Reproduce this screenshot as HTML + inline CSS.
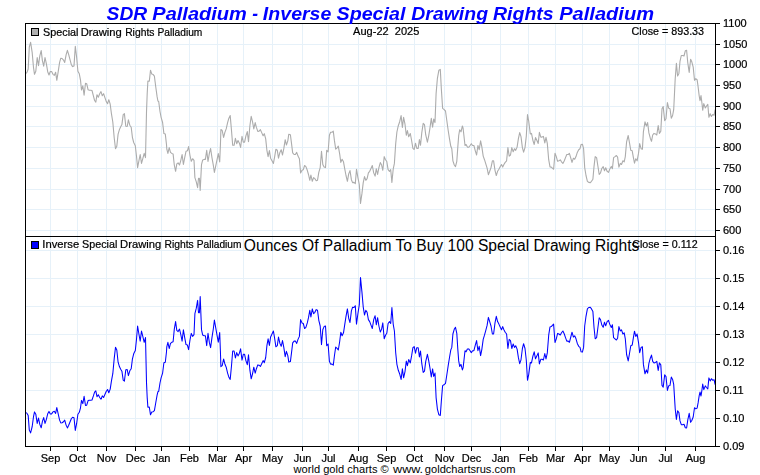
<!DOCTYPE html>
<html lang="en"><head><meta charset="utf-8"><title>SDR Palladium - Inverse Special Drawing Rights Palladium</title>
<style>html,body{margin:0;padding:0;background:#fff}body{width:760px;height:475px;overflow:hidden;position:relative}svg{position:absolute;left:0;top:0;display:block}#tx{will-change:transform}</style></head>
<body>
<svg id="ch" width="760" height="475" viewBox="0 0 760 475">
<rect width="760" height="475" fill="#fff"/>
<path d="M50.5 23.5V446.5M77.5 23.5V446.5M106.5 23.5V446.5M135.5 23.5V446.5M161.5 23.5V446.5M189.5 23.5V446.5M217.5 23.5V446.5M243.5 23.5V446.5M272.5 23.5V446.5M302.5 23.5V446.5M328.5 23.5V446.5M358.5 23.5V446.5M386.5 23.5V446.5M414.5 23.5V446.5M444.5 23.5V446.5M471.5 23.5V446.5M500.5 23.5V446.5M528.5 23.5V446.5M555.5 23.5V446.5M582.5 23.5V446.5M609.5 23.5V446.5M638.5 23.5V446.5M665.5 23.5V446.5M695.5 23.5V446.5M25.5 230.5H715.5M25.5 209.5H715.5M25.5 189.5H715.5M25.5 168.5H715.5M25.5 147.5H715.5M25.5 126.5H715.5M25.5 106.5H715.5M25.5 85.5H715.5M25.5 64.5H715.5M25.5 44.5H715.5M25.5 418.5H715.5M25.5 390.5H715.5M25.5 362.5H715.5M25.5 334.5H715.5M25.5 306.5H715.5M25.5 278.5H715.5M25.5 250.5H715.5" stroke="#e6f1f9" stroke-width="1" fill="none" shape-rendering="crispEdges"/>
<polyline points="26.3,73.6 27.2,71.7 28.2,69.0 29.3,47.0 30.6,42.3 32.2,52.7 33.5,67.5 34.5,74.3 35.8,71.2 37.2,57.5 38.5,65.6 39.8,55.9 41.2,50.6 42.4,60.6 43.7,66.2 45.0,57.5 46.3,63.3 47.7,71.7 49.0,75.0 50.3,71.5 51.6,71.5 53.0,74.3 54.3,75.4 55.6,72.2 56.8,80.3 58.2,71.7 59.6,62.4 60.8,58.2 62.1,58.5 63.5,60.1 64.7,62.4 66.1,54.8 67.4,50.4 68.7,54.6 70.0,59.6 71.4,64.8 72.6,66.6 74.0,65.9 75.3,46.4 76.6,57.0 77.9,71.2 79.3,73.8 80.5,80.1 81.5,90.0 82.8,85.8 84.1,95.3 85.5,83.2 86.7,83.7 88.1,89.8 89.4,90.2 90.7,90.2 92.0,90.5 93.4,95.8 94.6,100.5 95.8,102.1 97.0,94.7 98.3,97.2 99.7,93.7 101.0,91.6 102.3,95.8 103.6,93.7 105.0,97.9 106.3,101.6 107.6,103.7 108.8,99.7 110.2,104.2 111.5,114.2 112.8,122.0 114.2,137.8 115.5,148.8 116.8,146.2 118.1,134.1 119.5,129.4 120.7,126.7 121.9,124.6 123.2,114.6 124.4,113.6 125.8,126.2 127.2,126.5 128.4,119.9 129.8,125.2 131.2,127.3 132.4,137.3 133.7,142.5 135.3,145.7 136.5,156.2 137.6,167.6 138.9,160.8 140.2,154.5 141.5,163.4 142.8,158.7 144.2,153.4 145.5,157.6 146.5,112.0 147.2,93.6 147.9,81.0 149.3,81.2 150.5,70.2 151.8,74.1 153.2,74.6 154.4,76.2 155.8,87.3 157.1,96.7 157.9,101.0 158.7,101.5 160.0,111.5 161.1,117.3 162.6,122.5 163.9,133.6 165.3,134.1 166.5,144.6 166.8,149.2 167.9,153.4 169.2,147.6 170.5,152.4 171.8,153.4 173.1,153.9 174.3,165.0 175.6,171.3 176.8,163.9 178.1,162.9 179.5,165.0 180.7,160.8 182.1,154.5 183.4,164.5 184.7,157.6 186.0,151.3 187.4,150.8 188.6,146.6 190.0,155.5 191.3,161.3 192.6,158.7 194.0,160.3 194.9,177.6 196.3,181.8 197.6,187.6 198.5,178.3 199.4,178.3 200.2,190.4 201.5,164.6 202.7,159.9 204.1,159.4 205.4,159.4 206.7,150.4 208.0,161.5 209.4,153.1 210.6,148.5 212.0,157.8 213.3,165.2 214.4,172.5 215.7,166.2 217.1,159.4 218.3,153.6 219.7,162.0 220.4,145.2 220.9,129.5 222.2,130.5 223.6,137.4 224.8,132.6 226.2,128.9 227.6,122.6 228.8,118.4 230.2,115.6 231.5,130.5 232.7,145.3 234.1,145.3 235.4,138.4 236.7,143.7 238.0,140.5 239.4,143.2 240.6,147.4 242.0,136.3 243.3,142.1 244.6,142.1 245.9,135.8 247.3,131.6 248.5,141.6 249.9,125.8 251.2,116.3 252.5,121.6 253.8,128.9 255.2,122.6 256.4,127.4 257.8,131.4 259.1,131.1 260.4,129.7 261.7,132.6 263.1,135.8 264.3,133.7 265.7,138.9 266.9,150.3 268.1,156.6 269.4,150.6 270.6,158.2 272.0,160.8 273.4,163.4 274.6,157.1 275.9,149.2 277.3,150.3 278.5,158.2 279.9,152.4 281.2,149.7 282.5,155.0 283.8,148.7 285.2,139.7 286.4,145.0 287.8,140.8 288.8,134.2 290.4,134.7 291.5,143.4 292.7,152.9 294.1,154.5 295.4,154.5 296.7,152.4 298.0,156.1 299.4,158.7 300.6,172.9 302.0,170.3 303.3,169.7 304.6,165.5 305.9,166.6 307.3,170.3 308.5,174.5 309.8,180.3 310.9,175.0 312.3,181.3 313.6,177.6 314.9,178.7 316.2,180.8 317.5,180.3 318.8,172.4 320.2,167.6 321.5,151.3 322.8,164.5 324.1,167.1 325.5,167.6 326.7,150.3 328.1,151.8 329.4,135.2 330.6,132.2 332.0,132.2 333.3,131.2 334.4,140.4 335.7,149.1 337.1,147.8 338.3,146.2 339.7,154.1 340.8,162.4 342.1,159.2 343.5,161.8 344.7,168.7 346.0,175.5 347.4,181.3 348.7,173.9 350.0,170.6 351.4,179.7 352.6,182.6 354.0,182.4 355.3,183.7 356.5,169.2 357.9,177.6 359.3,184.5 360.5,203.4 361.9,193.9 363.2,182.9 364.5,176.6 365.8,180.3 367.1,178.7 368.4,172.9 369.7,171.3 371.1,168.2 372.3,165.5 373.7,172.9 375.1,176.1 376.3,168.7 377.6,174.5 378.9,167.6 380.3,162.6 381.6,165.0 382.8,170.3 384.2,156.6 385.5,159.7 386.8,161.5 388.1,169.7 389.5,171.3 390.7,169.7 391.9,182.4 393.2,169.2 394.4,163.4 395.7,143.6 396.9,132.0 398.3,125.7 399.6,122.0 401.1,115.6 402.4,127.4 403.6,117.4 405.0,124.2 406.3,135.3 407.4,130.5 408.7,136.8 410.3,133.5 411.6,140.5 412.9,148.4 414.2,149.5 415.5,143.2 416.8,148.4 418.2,148.4 419.4,139.5 420.5,145.3 421.8,132.6 423.2,123.4 424.5,124.7 425.7,134.7 427.4,142.1 428.7,135.8 429.9,128.4 431.3,118.4 432.6,127.2 433.7,119.0 435.0,122.6 436.1,93.6 437.4,78.3 438.9,70.2 440.3,69.4 441.3,88.3 442.6,108.3 443.9,109.4 445.5,111.0 446.8,120.5 448.2,130.5 449.5,138.9 450.8,146.3 451.8,148.7 452.9,160.8 454.3,165.0 455.5,166.6 456.8,161.3 457.8,147.1 458.7,135.5 459.7,129.7 461.0,131.8 462.4,126.0 463.1,128.2 463.9,135.5 465.0,145.5 466.1,144.5 467.4,147.1 468.7,147.3 470.1,145.5 471.3,143.7 472.6,145.5 473.9,145.5 475.3,150.8 476.6,155.0 477.9,145.5 479.2,149.7 480.6,140.8 481.8,146.6 483.2,156.1 484.5,159.7 485.8,163.9 487.1,168.2 488.4,174.7 489.7,171.3 491.0,167.6 492.4,160.8 493.6,160.8 495.0,170.3 496.3,175.5 497.6,171.3 498.9,169.2 500.3,166.6 501.5,164.5 502.7,167.1 503.9,164.5 505.2,162.4 506.6,160.8 507.9,147.6 509.2,156.1 510.5,155.0 511.8,147.6 513.2,151.8 514.5,148.7 515.7,150.3 517.1,147.1 518.4,138.7 519.7,132.6 521.0,136.6 522.4,147.6 523.6,152.2 525.0,147.6 526.3,136.1 527.5,114.5 528.7,121.0 530.3,133.9 531.5,133.4 532.9,140.3 534.2,144.5 535.5,137.6 536.8,140.3 538.2,143.4 539.4,132.4 540.8,137.1 542.0,137.1 543.4,136.4 544.8,142.9 546.0,137.4 547.3,143.4 548.7,159.7 550.0,166.9 551.3,167.1 552.6,168.4 553.6,169.2 555.0,153.2 556.3,156.6 557.6,161.3 558.9,160.8 560.3,159.9 561.5,161.8 562.9,163.4 564.3,160.8 565.5,157.6 566.8,154.5 568.2,154.5 569.4,153.4 570.8,158.2 572.0,162.4 573.4,158.2 574.7,159.2 576.0,156.6 577.3,152.4 578.7,149.7 580.0,148.7 581.1,144.5 582.4,144.2 583.6,148.7 584.7,167.6 586.0,175.5 587.4,181.3 588.7,182.4 590.3,182.6 591.5,181.3 592.9,179.2 594.0,166.6 595.2,156.6 596.6,157.6 597.8,165.5 599.2,174.5 600.5,172.9 601.8,168.5 603.2,166.6 604.5,170.8 605.7,167.8 607.1,171.3 608.5,172.4 609.7,169.2 611.3,166.4 612.4,168.7 613.6,157.6 615.0,156.6 616.4,155.5 617.6,157.1 618.9,167.1 620.3,163.4 621.5,164.5 622.9,160.8 624.2,161.8 625.3,156.6 626.6,141.8 628.2,135.5 629.5,142.9 630.8,150.3 632.2,150.8 633.4,157.6 634.5,163.2 635.8,158.7 637.1,160.8 638.5,153.4 639.7,143.6 641.1,148.7 642.4,149.2 643.4,131.8 645.0,121.8 646.4,126.0 647.6,122.6 648.9,132.9 650.3,138.2 651.5,141.3 652.7,135.0 654.0,133.4 655.5,133.9 656.8,135.0 658.2,125.5 659.4,133.4 660.8,131.3 662.0,108.7 663.2,106.6 664.7,120.8 666.0,118.7 667.4,102.6 668.7,108.2 670.0,108.7 671.3,118.2 672.6,115.5 673.7,109.7 675.2,78.7 676.4,63.4 677.6,76.0 678.9,73.4 680.0,61.3 681.3,55.5 682.6,55.5 684.0,56.0 685.3,50.8 686.6,50.3 687.8,62.9 689.2,72.4 690.6,59.2 691.8,61.8 693.2,67.1 694.5,80.3 695.8,78.7 697.1,79.7 698.1,86.7 699.2,96.0 700.0,100.6 701.0,95.6 701.9,102.7 702.7,110.3 703.8,103.6 705.3,108.0 706.5,106.1 707.8,104.4 708.9,117.3 710.2,113.8 711.4,116.4 712.8,114.5 714.1,115.2 715.1,109.5" fill="none" stroke="#acacac" stroke-width="1.1" stroke-linejoin="round"/>
<polyline points="26.3,412.5 27.2,413.8 28.2,415.6 29.3,430.1 30.6,432.9 32.2,426.5 33.5,416.7 34.5,411.9 35.8,414.2 37.2,423.4 38.5,418.0 39.8,424.4 41.2,427.8 42.4,421.3 43.7,417.6 45.0,423.4 46.3,419.6 47.7,413.8 49.0,411.4 50.3,413.9 51.6,413.9 53.0,411.9 54.3,411.2 55.6,413.4 56.8,407.6 58.2,413.8 59.6,420.1 60.8,422.9 62.1,422.7 63.5,421.7 64.7,420.1 66.1,425.1 67.4,427.9 68.7,425.2 70.0,422.0 71.4,418.5 72.6,417.3 74.0,417.8 75.3,430.4 76.6,423.7 77.9,414.2 79.3,412.3 80.5,407.8 81.5,400.4 82.8,403.6 84.1,396.3 85.5,405.5 86.7,405.2 88.1,400.6 89.4,400.2 90.7,400.2 92.0,400.0 93.4,395.9 94.6,392.1 95.8,390.8 97.0,396.7 98.3,394.8 99.7,397.5 101.0,399.2 102.3,395.9 103.6,397.5 105.0,394.2 106.3,391.2 107.6,389.5 108.8,392.8 110.2,389.1 111.5,380.6 112.8,373.7 114.2,358.6 115.5,347.2 116.8,350.0 118.1,362.2 119.5,366.8 120.7,369.3 121.9,371.2 123.2,380.2 124.4,381.1 125.8,369.8 127.2,369.5 128.4,375.6 129.8,370.8 131.2,368.8 132.4,359.1 133.7,353.8 135.3,350.6 136.5,339.2 137.6,326.0 138.9,334.0 140.2,341.1 141.5,331.0 142.8,336.4 144.2,342.3 145.5,337.6 146.5,382.5 147.2,397.6 147.9,407.2 149.3,407.0 150.5,414.8 151.8,412.1 153.2,411.7 154.4,410.6 155.8,402.5 157.1,395.1 157.9,391.8 158.7,391.3 160.0,383.0 161.1,377.9 162.6,373.2 163.9,362.8 165.3,362.2 166.5,351.7 166.8,346.8 167.9,342.3 169.2,348.5 170.5,343.4 171.8,342.3 173.1,341.7 174.3,329.1 175.6,321.6 176.8,330.4 178.1,331.6 179.5,329.1 180.7,334.0 182.1,341.1 183.4,329.8 184.7,337.6 186.0,344.6 187.4,345.1 188.6,349.6 190.0,340.0 191.3,333.4 192.6,336.4 194.0,334.6 194.9,313.7 196.3,308.2 197.6,300.4 198.5,312.8 199.4,312.8 200.2,296.6 201.5,329.6 202.7,335.1 204.1,335.7 205.4,335.7 206.7,345.6 208.0,333.3 209.4,342.7 210.6,347.6 212.0,337.4 213.3,329.0 214.4,320.1 215.7,327.7 217.1,335.7 218.3,342.1 219.7,332.6 220.4,351.1 220.9,366.7 222.2,365.7 223.6,359.0 224.8,363.7 226.2,367.2 227.6,373.1 228.8,376.9 230.2,379.4 231.5,365.7 232.7,351.0 234.1,351.0 235.4,358.0 236.7,352.6 238.0,355.9 239.4,353.2 240.6,348.8 242.0,360.1 243.3,354.3 244.6,354.3 245.9,360.6 247.3,364.7 248.5,354.8 249.9,370.2 251.2,378.8 252.5,374.0 253.8,367.2 255.2,373.1 256.4,368.7 257.8,364.9 259.1,365.2 260.4,366.5 261.7,363.7 263.1,360.6 264.3,362.7 265.7,357.5 266.9,345.7 268.1,338.8 269.4,345.4 270.6,337.0 272.0,334.0 273.4,331.0 274.6,338.2 275.9,346.8 277.3,345.7 278.5,337.0 279.9,343.4 281.2,346.3 282.5,340.6 283.8,347.4 285.2,356.7 286.4,351.3 287.8,355.6 288.8,362.1 290.4,361.6 291.5,352.9 292.7,342.9 294.1,341.1 295.4,341.1 296.7,343.4 298.0,339.4 299.4,336.4 300.6,319.6 302.0,322.9 303.3,323.5 304.6,328.5 305.9,327.3 307.3,322.9 308.5,317.7 309.8,310.3 310.9,317.0 312.3,308.9 313.6,313.7 314.9,312.3 316.2,309.6 317.5,310.3 318.8,320.3 320.2,326.0 321.5,344.6 322.8,329.8 324.1,326.6 325.5,326.0 326.7,345.7 328.1,344.0 329.4,361.2 330.6,364.1 332.0,364.1 333.3,365.1 334.4,356.0 335.7,347.0 337.1,348.4 338.3,350.0 339.7,341.5 340.8,332.2 342.1,335.8 343.5,332.8 344.7,324.8 346.0,316.3 347.4,308.9 348.7,318.3 350.0,322.5 351.4,310.9 352.6,307.2 354.0,307.5 355.3,305.7 356.5,324.1 357.9,313.7 359.3,304.7 360.5,277.6 361.9,291.6 363.2,306.8 364.5,315.0 365.8,310.3 367.1,312.3 368.4,319.6 369.7,321.6 371.1,325.4 372.3,328.5 373.7,319.6 375.1,315.7 376.3,324.8 377.6,317.7 378.9,326.0 380.3,332.0 381.6,329.1 382.8,322.9 384.2,338.8 385.5,335.2 386.8,333.2 388.1,323.5 389.5,321.6 390.7,323.5 391.9,307.5 393.2,324.1 394.4,331.0 395.7,352.8 396.9,364.3 398.3,370.3 399.6,373.7 401.1,379.4 402.4,368.7 403.6,377.8 405.0,371.6 406.3,361.1 407.4,365.7 408.7,359.6 410.3,362.9 411.6,355.9 412.9,347.7 414.2,346.6 415.5,353.2 416.8,347.7 418.2,347.7 419.4,356.9 420.5,351.0 421.8,363.7 423.2,372.4 424.5,371.1 425.7,361.6 427.4,354.3 428.7,360.6 429.9,367.7 431.3,376.9 432.6,368.9 433.7,376.4 435.0,373.1 436.1,397.6 437.4,409.1 438.9,414.8 440.3,415.4 441.3,401.7 442.6,385.6 443.9,384.8 445.5,383.4 446.8,375.0 448.2,365.7 449.5,357.5 450.8,349.9 451.8,347.4 452.9,334.0 454.3,329.1 455.5,327.3 456.8,333.4 457.8,349.1 458.7,360.9 459.7,366.5 461.0,364.4 462.4,369.9 463.1,367.9 463.9,360.9 465.0,350.7 466.1,351.8 467.4,349.1 468.7,348.9 470.1,350.7 471.3,352.6 472.6,350.7 473.9,350.7 475.3,345.1 476.6,340.6 477.9,350.7 479.2,346.3 480.6,355.6 481.8,349.6 483.2,339.4 484.5,335.2 485.8,330.4 487.1,325.4 488.4,317.4 489.7,321.6 491.0,326.0 492.4,334.0 493.6,334.0 495.0,322.9 496.3,316.3 497.6,321.6 498.9,324.1 500.3,327.3 501.5,329.8 502.7,326.6 503.9,329.8 505.2,332.2 506.6,334.0 507.9,348.5 509.2,339.4 510.5,340.6 511.8,348.5 513.2,344.0 514.5,347.4 515.7,345.7 517.1,349.1 518.4,357.7 519.7,363.7 521.0,359.8 522.4,348.5 523.6,343.7 525.0,348.5 526.3,360.3 527.5,380.3 528.7,374.6 530.3,362.4 531.5,362.9 532.9,356.1 534.2,351.8 535.5,358.8 536.8,356.1 538.2,352.9 539.4,363.9 540.8,359.3 542.0,359.3 543.4,360.0 544.8,353.5 546.0,359.0 547.3,352.9 548.7,335.2 550.0,326.9 551.3,326.6 552.6,325.1 553.6,324.1 555.0,342.5 556.3,338.8 557.6,333.4 558.9,334.0 560.3,335.0 561.5,332.8 562.9,331.0 564.3,334.0 565.5,337.6 566.8,341.1 568.2,341.1 569.4,342.3 570.8,337.0 572.0,332.2 573.4,337.0 574.7,335.8 576.0,338.8 577.3,343.4 578.7,346.3 580.0,347.4 581.1,351.8 582.4,352.1 583.6,347.4 584.7,326.0 586.0,316.3 587.4,308.9 588.7,307.5 590.3,307.2 591.5,308.9 592.9,311.6 594.0,327.3 595.2,338.8 596.6,337.6 597.8,328.5 599.2,317.7 600.5,319.6 601.8,325.0 603.2,327.3 604.5,322.2 605.7,325.8 607.1,321.6 608.5,320.3 609.7,324.1 611.3,327.5 612.4,324.8 613.6,337.6 615.0,338.8 616.4,340.0 617.6,338.2 618.9,326.6 620.3,331.0 621.5,329.8 622.9,334.0 624.2,332.8 625.3,338.8 626.6,354.5 628.2,360.9 629.5,353.5 630.8,345.7 632.2,345.1 633.4,337.6 634.5,331.2 635.8,336.4 637.1,334.0 638.5,342.3 639.7,352.7 641.1,347.4 642.4,346.8 643.4,364.4 645.0,373.8 646.4,369.9 647.6,373.1 648.9,363.4 650.3,358.2 651.5,355.1 652.7,361.4 654.0,362.9 655.5,362.4 656.8,361.4 658.2,370.4 659.4,362.9 660.8,364.9 662.0,385.4 663.2,387.1 664.7,374.8 666.0,376.6 667.4,390.4 668.7,385.8 670.0,385.4 671.3,377.1 672.6,379.4 673.7,384.4 675.2,408.8 676.4,419.5 677.6,410.7 678.9,412.6 680.0,420.9 681.3,424.7 682.6,424.7 684.0,424.3 685.3,427.7 686.6,428.0 687.8,419.8 689.2,413.3 690.6,422.3 691.8,420.5 693.2,417.0 694.5,407.7 695.8,408.8 697.1,408.1 698.1,402.9 699.2,395.7 700.0,392.0 701.0,396.0 701.9,390.3 702.7,384.0 703.8,389.6 705.3,385.9 706.5,387.5 707.8,388.9 708.9,377.9 710.2,380.9 711.4,378.7 712.8,380.3 714.1,379.7 715.1,384.6" fill="none" stroke="#0000ff" stroke-width="1.05" stroke-linejoin="round"/>
<path d="M25.5 23.5H715.5V446.5H25.5ZM25.5 236.5H715.5M50.5 446.5v4.5M77.5 446.5v4.5M106.5 446.5v4.5M135.5 446.5v4.5M161.5 446.5v4.5M189.5 446.5v4.5M217.5 446.5v4.5M243.5 446.5v4.5M272.5 446.5v4.5M302.5 446.5v4.5M328.5 446.5v4.5M358.5 446.5v4.5M386.5 446.5v4.5M414.5 446.5v4.5M444.5 446.5v4.5M471.5 446.5v4.5M500.5 446.5v4.5M528.5 446.5v4.5M555.5 446.5v4.5M582.5 446.5v4.5M609.5 446.5v4.5M638.5 446.5v4.5M665.5 446.5v4.5M695.5 446.5v4.5M715.5 230.5h4.5M715.5 209.5h4.5M715.5 189.5h4.5M715.5 168.5h4.5M715.5 147.5h4.5M715.5 126.5h4.5M715.5 106.5h4.5M715.5 85.5h4.5M715.5 64.5h4.5M715.5 44.5h4.5M715.5 23.5h4.5M715.5 446.5h4.5M715.5 418.5h4.5M715.5 390.5h4.5M715.5 362.5h4.5M715.5 334.5h4.5M715.5 306.5h4.5M715.5 278.5h4.5M715.5 250.5h4.5" stroke="#000" stroke-width="1" fill="none" shape-rendering="crispEdges"/>
<rect x="31.5" y="28.5" width="7" height="7" fill="#b0b0b0" stroke="#000" stroke-width="1" shape-rendering="crispEdges"/>
<rect x="31.5" y="241.5" width="7" height="7" fill="#0000ff" stroke="#000" stroke-width="1" shape-rendering="crispEdges"/>
<g font-family="Liberation Sans, Arial, sans-serif" font-size="16" fill="#000">
<text x="243.85" y="251" textLength="395.5" lengthAdjust="spacingAndGlyphs">Ounces Of Palladium To Buy 100 Special Drawing Rights</text>
</g>
<g font-family="Liberation Sans, Arial, sans-serif" font-size="11.4" fill="#000"><text x="293.55" y="472.6" textLength="95.2" lengthAdjust="spacingAndGlyphs">world gold charts ©</text><text x="393.06" y="472.6" textLength="30.07" lengthAdjust="spacingAndGlyphs">www.</text><text x="424.86" y="472.6" textLength="90.56" lengthAdjust="spacingAndGlyphs">goldchartsrus.com</text></g>
</svg>
<svg id="tx" width="760" height="475" viewBox="0 0 760 475">
<g font-family="Liberation Sans, Arial, sans-serif" font-size="11" fill="#000" stroke="#000" stroke-width="0.22">
<text x="50.5" y="461.85" text-anchor="middle">Sep</text>
<text x="77.5" y="461.85" text-anchor="middle">Oct</text>
<text x="106.5" y="461.85" text-anchor="middle">Nov</text>
<text x="135.5" y="461.85" text-anchor="middle">Dec</text>
<text x="161.5" y="461.85" text-anchor="middle">Jan</text>
<text x="189.5" y="461.85" text-anchor="middle">Feb</text>
<text x="217.5" y="461.85" text-anchor="middle">Mar</text>
<text x="243.5" y="461.85" text-anchor="middle">Apr</text>
<text x="272.5" y="461.85" text-anchor="middle">May</text>
<text x="302.5" y="461.85" text-anchor="middle">Jun</text>
<text x="328.5" y="461.85" text-anchor="middle">Jul</text>
<text x="358.5" y="461.85" text-anchor="middle">Aug</text>
<text x="386.5" y="461.85" text-anchor="middle">Sep</text>
<text x="414.5" y="461.85" text-anchor="middle">Oct</text>
<text x="444.5" y="461.85" text-anchor="middle">Nov</text>
<text x="471.5" y="461.85" text-anchor="middle">Dec</text>
<text x="500.5" y="461.85" text-anchor="middle">Jan</text>
<text x="528.5" y="461.85" text-anchor="middle">Feb</text>
<text x="555.5" y="461.85" text-anchor="middle">Mar</text>
<text x="582.5" y="461.85" text-anchor="middle">Apr</text>
<text x="609.5" y="461.85" text-anchor="middle">May</text>
<text x="638.5" y="461.85" text-anchor="middle">Jun</text>
<text x="665.5" y="461.85" text-anchor="middle">Jul</text>
<text x="695.5" y="461.85" text-anchor="middle">Aug</text>
<text x="723" y="233.9">600</text>
<text x="723" y="212.9">650</text>
<text x="723" y="192.9">700</text>
<text x="723" y="171.9">750</text>
<text x="723" y="150.9">800</text>
<text x="723" y="129.9">850</text>
<text x="723" y="109.9">900</text>
<text x="723" y="88.9">950</text>
<text x="723" y="67.9">1000</text>
<text x="723" y="47.9">1050</text>
<text x="723" y="26.9">1100</text>
<text x="723" y="449.9">0.09</text>
<text x="723" y="421.9">0.10</text>
<text x="723" y="393.9">0.11</text>
<text x="723" y="365.9">0.12</text>
<text x="723" y="337.9">0.13</text>
<text x="723" y="309.9">0.14</text>
<text x="723" y="281.9">0.15</text>
<text x="723" y="253.9">0.16</text>
<text x="43.06" y="36" textLength="35.42" lengthAdjust="spacingAndGlyphs">Special</text><text x="80.68" y="36" textLength="41.2" lengthAdjust="spacingAndGlyphs">Drawing</text><text x="125.16" y="36" textLength="29.27" lengthAdjust="spacingAndGlyphs">Rights</text><text x="157.57" y="36" textLength="44.8" lengthAdjust="spacingAndGlyphs">Palladium</text>
<text x="353.1" y="35" style="white-space:pre" textLength="66.2" lengthAdjust="spacingAndGlyphs">Aug-22  2025</text>
<text x="631.6" y="35" textLength="72.45" lengthAdjust="spacingAndGlyphs">Close = 893.33</text>
<text x="42.28" y="248.4" textLength="36.9" lengthAdjust="spacingAndGlyphs">Inverse</text><text x="82.06" y="248.4" textLength="35.22" lengthAdjust="spacingAndGlyphs">Special</text><text x="120.08" y="248.4" textLength="41.1" lengthAdjust="spacingAndGlyphs">Drawing</text><text x="164.46" y="248.4" textLength="29.27" lengthAdjust="spacingAndGlyphs">Rights</text><text x="196.77" y="248.4" textLength="44.69" lengthAdjust="spacingAndGlyphs">Palladium</text>
<text x="632.2" y="248" textLength="65.55" lengthAdjust="spacingAndGlyphs">Close = 0.112</text>
</g>
<g font-family="Liberation Sans, Arial, sans-serif" font-size="18.67" font-weight="bold" font-style="italic" fill="#0000ff"><text x="106.6" y="19.5" textLength="40.57" lengthAdjust="spacingAndGlyphs">SDR</text><text x="152.29" y="19.5" textLength="94.61" lengthAdjust="spacingAndGlyphs">Palladium</text><text x="252.13" y="19.5" textLength="5.83" lengthAdjust="spacingAndGlyphs">-</text><text x="262.89" y="19.5" textLength="68.49" lengthAdjust="spacingAndGlyphs">Inverse</text><text x="336.5" y="19.5" textLength="68.93" lengthAdjust="spacingAndGlyphs">Special</text><text x="411.3" y="19.5" textLength="76.74" lengthAdjust="spacingAndGlyphs">Drawing</text><text x="493" y="19.5" textLength="60.69" lengthAdjust="spacingAndGlyphs">Rights</text><text x="559.19" y="19.5" textLength="94.91" lengthAdjust="spacingAndGlyphs">Palladium</text></g>
</svg>
</body></html>
